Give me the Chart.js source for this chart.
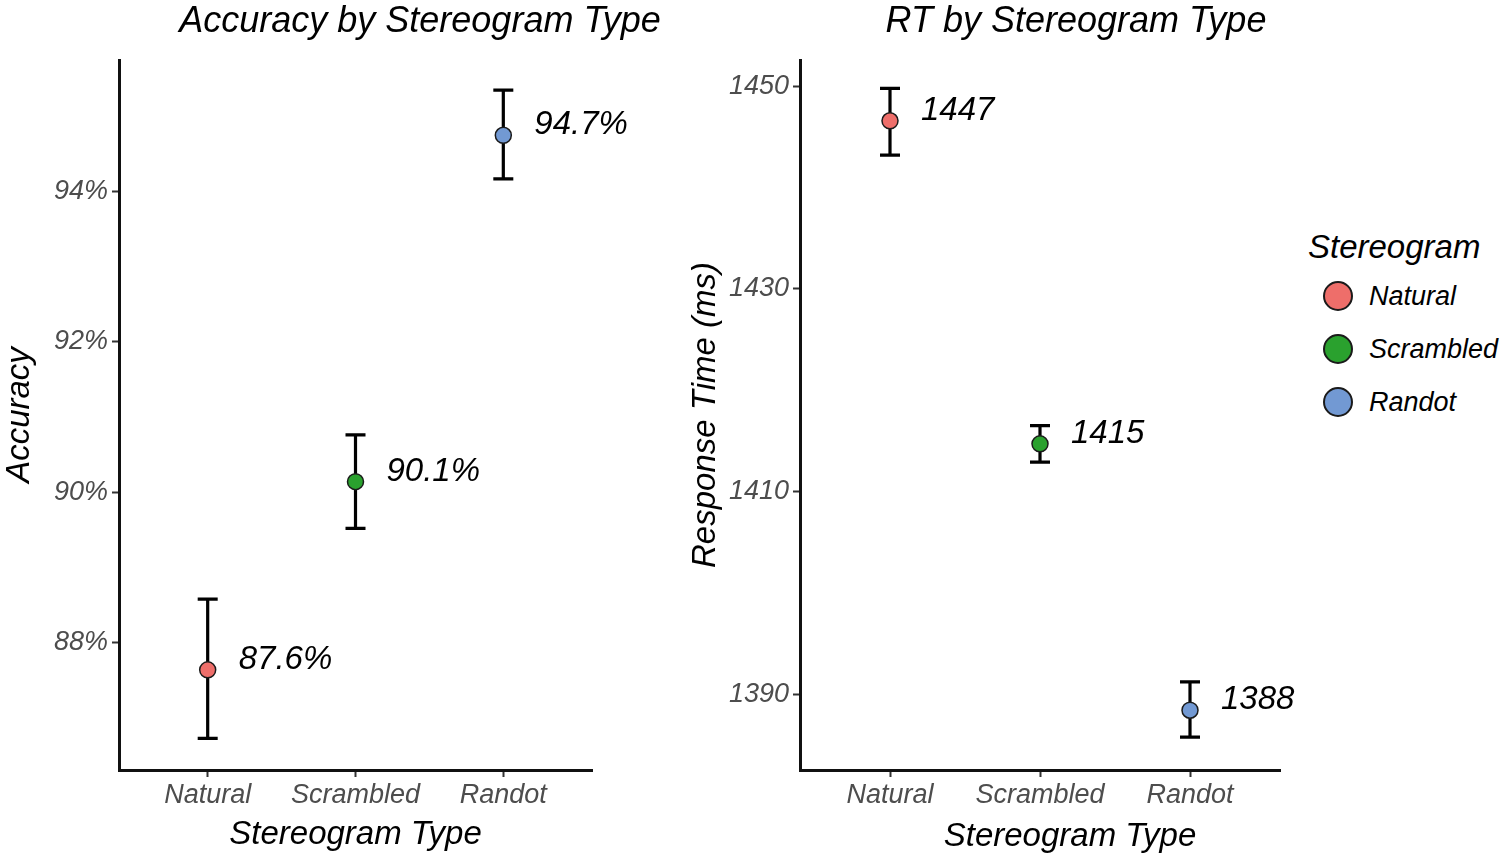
<!DOCTYPE html>
<html>
<head>
<meta charset="utf-8">
<script src="https://cdn.jsdelivr.net/npm/chart.js@4.4.1/dist/chart.umd.min.js"></script>
<style>
  body { margin: 0; background: #fff; font-family: "Liberation Sans", Arial, sans-serif; font-style: italic; }
  #wrap { position: relative; width: 1500px; height: 855px; overflow: hidden; }
  canvas { position: absolute; top: 0; }
  .ptitle { position: absolute; top: 2px; font-size: 36px; line-height: 36px; white-space: nowrap; transform: translateX(-50%); color: #000; }
  .xtitle { position: absolute; top: 816px; font-size: 33px; line-height: 38px; white-space: nowrap; transform: translateX(-50%); color: #000; }
  #legend { position: absolute; left: 1308px; top: 230px; color: #000; }
  #legend .ltitle { font-size: 33px; line-height: 33px; white-space: nowrap; }
  #legend .item { position: absolute; left: 0; height: 53px; display: flex; align-items: center; white-space: nowrap; font-size: 27px; }
  #legend .dot { width: 26px; height: 26px; border-radius: 50%; border: 2px solid #1a1a1a; margin-left: 15px; margin-right: 16px; }
</style>
</head>
<body>
<div id="wrap">
  <canvas id="accChart" width="640" height="855" style="left:0px"></canvas>
  <canvas id="rtChart" width="620" height="855" style="left:686px"></canvas>
  <div class="ptitle" style="left:420px">Accuracy by Stereogram Type</div>
  <div class="ptitle" style="left:1076px">RT by Stereogram Type</div>
  <div class="xtitle" style="left:1070px">Stereogram Type</div>
  <div id="legend"><div class="ltitle">Stereogram</div></div>
</div>
<script>
const stereoTypes = ['Natural', 'Scrambled', 'Randot'];
const typeColors = ['#ee6e6a', '#2aa12e', '#7299d3'];

// accuracy (%) with error bar ends
const accMean = [87.64, 90.14, 94.74];
const accLow = [86.73, 89.52, 94.16];
const accHigh = [88.58, 90.76, 95.34];
const accTicks = [88, 90, 92, 94];

// response time (ms) with error bar ends
const rtMean = [1446.6, 1414.7, 1388.4];
const rtLow = [1443.2, 1412.9, 1385.75];
const rtHigh = [1449.8, 1416.5, 1391.2];
const rtTicks = [1390, 1410, 1430, 1450];

const FONT = '"Liberation Sans", Arial, sans-serif';

const errorBarPlugin = {
  id: 'errorBars',
  beforeDatasetsDraw(chart, args, opts) {
    const { ctx, scales: { x, y } } = chart;
    ctx.save();
    ctx.strokeStyle = '#000';
    ctx.lineWidth = 3.2;
    opts.low.forEach((lo, i) => {
      const px = x.getPixelForValue(i);
      const yTop = y.getPixelForValue(opts.high[i]);
      const yBot = y.getPixelForValue(lo);
      ctx.beginPath();
      ctx.moveTo(px, yTop); ctx.lineTo(px, yBot);
      ctx.moveTo(px - 10, yTop); ctx.lineTo(px + 10, yTop);
      ctx.moveTo(px - 10, yBot); ctx.lineTo(px + 10, yBot);
      ctx.stroke();
    });
    ctx.restore();
  },
  afterDatasetsDraw(chart, args, opts) {
    const { ctx, scales: { x, y } } = chart;
    ctx.save();
    ctx.fillStyle = '#000';
    ctx.font = 'italic 33px ' + FONT;
    ctx.textAlign = 'left';
    ctx.textBaseline = 'middle';
    opts.mean.forEach((v, i) => {
      ctx.fillText(opts.format(v), x.getPixelForValue(i) + 31, y.getPixelForValue(v) - 10);
    });
    ctx.restore();
  }
};

function makePanel(canvasId, mean, low, high, tickVals, yMin, yMax, tickFmt, labelFmt, yTitle, yWidth, padRight, showXTitle) {
  const axisStyle = {
    grid: { drawOnChartArea: false, drawTicks: true, tickLength: 7, tickColor: '#333', tickWidth: 2 },
    border: { display: true, color: '#111', width: 3 }
  };
  return new Chart(document.getElementById(canvasId), {
    type: 'scatter',
    data: {
      datasets: [{
        data: mean.map((v, i) => ({ x: i, y: v })),
        pointBackgroundColor: typeColors,
        pointBorderColor: '#1a1a1a',
        pointBorderWidth: 1.5,
        pointRadius: 8
      }]
    },
    options: {
      responsive: false,
      animation: false,
      layout: { padding: { left: 0, right: padRight, top: 60, bottom: 0 } },
      plugins: {
        legend: { display: false },
        tooltip: { enabled: false },
        errorBars: { low: low, high: high, mean: mean, format: labelFmt }
      },
      scales: {
        x: {
          type: 'linear',
          min: -0.6,
          max: 2.6,
          afterBuildTicks: s => { s.ticks = stereoTypes.map((_, i) => ({ value: i })); },
          afterFit: s => { s.height = 85; },
          ticks: {
            callback: v => stereoTypes[v],
            font: { family: FONT, size: 27, style: 'italic' },
            color: '#4d4d4d',
            padding: 2,
            maxRotation: 0,
            autoSkip: false
          },
          title: { display: showXTitle, text: 'Stereogram Type', color: '#000', font: { family: FONT, size: 33, style: 'italic' }, padding: 0 },
          ...axisStyle
        },
        y: {
          type: 'linear',
          min: yMin,
          max: yMax,
          afterBuildTicks: s => { s.ticks = tickVals.map(v => ({ value: v })); },
          afterFit: s => { s.width = yWidth; },
          ticks: {
            callback: tickFmt,
            font: { family: FONT, size: 27, style: 'italic' },
            color: '#4d4d4d',
            padding: 4
          },
          title: { display: true, text: yTitle, color: '#000', font: { family: FONT, size: 33, style: 'italic' }, padding: 0 },
          ...axisStyle
        }
      }
    },
    plugins: [errorBarPlugin]
  });
}

makePanel('accChart', accMean, accLow, accHigh, accTicks, 86.31, 95.74,
  v => v + '%', v => v.toFixed(1) + '%', 'Accuracy', 119, 48, true);
makePanel('rtChart', rtMean, rtLow, rtHigh, rtTicks, 1382.5, 1452.6,
  v => String(v), v => v.toFixed(0), 'Response Time (ms)', 114, 26, false);

const legend = document.getElementById('legend');
stereoTypes.forEach((name, i) => {
  const item = document.createElement('div');
  item.className = 'item';
  item.style.top = (39.5 + i * 53) + 'px';
  item.innerHTML = `<span class="dot" style="background:${typeColors[i]}"></span><span>${name}</span>`;
  legend.appendChild(item);
});
</script>
</body>
</html>
